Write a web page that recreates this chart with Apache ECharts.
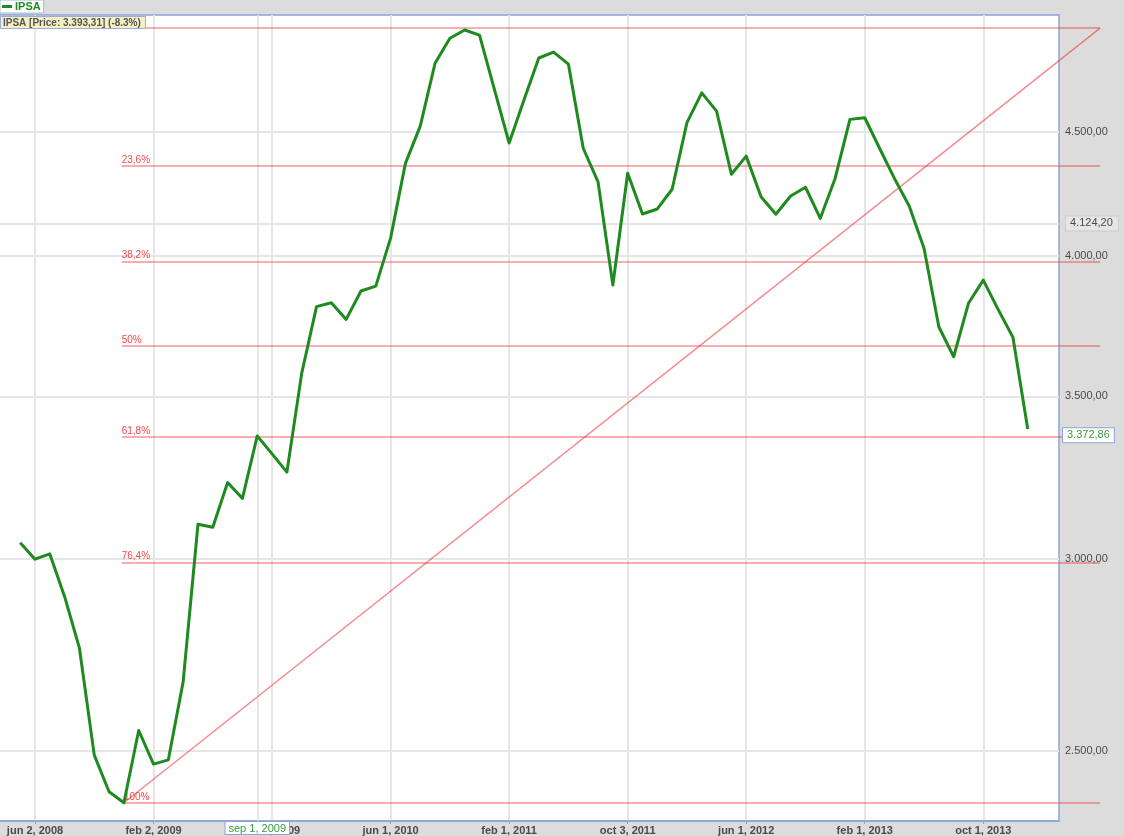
<!DOCTYPE html>
<html><head><meta charset="utf-8">
<script src="https://cdn.jsdelivr.net/npm/echarts@6/dist/echarts.min.js"></script>
<style>html,body{margin:0;padding:0;background:#dcdcdc}#c{width:1124px;height:836px}</style>
</head><body><div id="c"></div>
<script>
// ---- data ----
const months = ['2008-05','2008-06','2008-07','2008-08','2008-09','2008-10','2008-11','2008-12',
 '2009-01','2009-02','2009-03','2009-04','2009-05','2009-06','2009-07','2009-08','2009-09','2009-10','2009-11','2009-12',
 '2010-01','2010-02','2010-03','2010-04','2010-05','2010-06','2010-07','2010-08','2010-09','2010-10','2010-11','2010-12',
 '2011-01','2011-02','2011-03','2011-04','2011-05','2011-06','2011-07','2011-08','2011-09','2011-10','2011-11','2011-12',
 '2012-01','2012-02','2012-03','2012-04','2012-05','2012-06','2012-07','2012-08','2012-09','2012-10','2012-11','2012-12',
 '2013-01','2013-02','2013-03','2013-04','2013-05','2013-06','2013-07','2013-08','2013-09','2013-10','2013-11','2013-12',
 '2014-01'];
const ipsa = [3046, 2999, 3014, 2894, 2756, 2490, 2405, 2380, 2549, 2469,
 2479, 2670, 3100, 3091, 3225, 3177, 3371, 3314, 3257, 3577,
 3811, 3825, 3765, 3868, 3886, 4067, 4366, 4523, 4801, 4916,
 4955, 4931, 4685, 4451, 4636, 4825, 4852, 4797, 4429, 4290,
 3890, 4325, 4161, 4181, 4260, 4538, 4668, 4588, 4321, 4396,
 4230, 4160, 4233, 4268, 4144, 4304, 4552, 4559, 4429, 4304,
 4193, 4028, 3739, 3634, 3823, 3908, 3801, 3702, 3393.31];
const tickIdx = [1, 9, 17, 25, 33, 41, 49, 57, 65];
const tickLabels = ['jun 2, 2008','feb 2, 2009','oct 1, 2009','jun 1, 2010','feb 1, 2011','oct 3, 2011','jun 1, 2012','feb 1, 2013','oct 1, 2013'];
const yTicks = [2500, 3000, 3500, 4000, 4500];
const fibRatios = [0, 0.236, 0.382, 0.5, 0.618, 0.764, 1];
const fibLabels = ['0%', '23,6%', '38,2%', '50%', '61,8%', '76,4%', '100%'];
const fibHigh = 4964, fibLow = 2380;
const fibStartIdx = 6.85, fibLowIdx = 7, fibEndIdx = 72.88;
const cursorIdx = 16, cursorLabel = 'sep 1, 2009';
const cursorPrice = 4124.20;
const lastPrice = 3372.86;
const titleText = 'IPSA [Price: 3.393,31] (-8.3%)';

// ---- helpers ----
function fmt(n) {
  const s = n.toFixed(2).split('.');
  return s[0].replace(/\B(?=(\d{3})+(?!\d))/g, '.') + ',' + s[1];
}
const BLUE = '#8aa4d6', GREEN = '#1f8a1f', FIB = 'rgba(238,60,60,0.55)';
const yMin = 2339.2, yMax = 5025.9;

const gridLineData = yTicks.map(v => ({
  yAxis: v,
  lineStyle: {color: '#e6e6e6', width: 2, type: 'solid'},
  label: {show: true, position: 'end', distance: 6, formatter: fmt(v), color: '#4a4a4a', fontSize: 11}
}));
gridLineData.push({
  yAxis: cursorPrice,
  lineStyle: {color: '#dedede', width: 1.5, type: 'solid'},
  label: {show: true, position: 'end', distance: 7, formatter: fmt(cursorPrice), color: '#4a4a4a', fontSize: 11,
    backgroundColor: '#e6e6e6', borderColor: '#cccccc', borderWidth: 1, padding: [2, 5, 1, 4]}
});
gridLineData.push({
  xAxis: cursorIdx,
  lineStyle: {color: '#dedede', width: 1.5, type: 'solid'},
  label: {show: true, position: 'start', distance: 1, formatter: cursorLabel, color: '#3a9a3a', fontSize: 11,
    backgroundColor: '#ffffff', borderColor: BLUE, borderWidth: 1, padding: [1, 3, 0, 3]}
});
const lastPriceData = [{
  yAxis: lastPrice,
  label: {show: true, position: 'end', distance: 4, formatter: fmt(lastPrice), color: '#3a9a3a', fontSize: 11,
    backgroundColor: '#ffffff', borderColor: BLUE, borderWidth: 1, padding: [2, 4, 1, 4]}
}];

const fibData = fibRatios.map((r, k) => {
  const lvl = fibHigh - r * (fibHigh - fibLow);
  return [
    {coord: [k === fibRatios.length - 1 ? fibLowIdx : fibStartIdx, lvl],
     label: {show: true, position: 'insideStartTop', distance: [0, 1], formatter: fibLabels[k], color: 'rgba(235,40,40,0.85)', fontSize: 10}},
    {coord: [fibEndIdx, lvl]}
  ];
});
fibData.push([
  {coord: [fibLowIdx, fibLow], lineStyle: {width: 1.5, color: 'rgba(238,60,60,0.6)'}, label: {show: false}},
  {coord: [fibEndIdx, fibHigh]}
]);

const chart = echarts.init(document.getElementById('c'), null, {renderer: 'canvas'});
chart.setOption({
  animation: false,
  backgroundColor: '#dcdcdc',
  textStyle: {fontFamily: '"Liberation Sans", Arial, sans-serif'},
  title: {
    text: titleText, left: 0, top: 16, padding: [2, 5, 1, 3],
    backgroundColor: '#f6efc4', borderColor: '#9aaed8', borderWidth: 1,
    textStyle: {fontSize: 10, color: '#555', fontWeight: 'bold'}
  },
  legend: {
    data: ['IPSA'], left: 0, top: 0, padding: [1, 3, 1, 2],
    backgroundColor: '#ffffff', borderColor: '#a8b8d8', borderWidth: 1,
    icon: 'rect', itemWidth: 10, itemHeight: 3, itemGap: 2,
    textStyle: {color: GREEN, fontWeight: 'bold', fontSize: 11, padding: [0, 0, 0, -2]}
  },
  grid: [
    {left: -1, right: 65, top: 15, bottom: 15, show: true, backgroundColor: '#ffffff',
     borderColor: BLUE, borderWidth: 1.5, outerBoundsMode: 'none'},
    {left: -1, right: 20, top: 15, bottom: 15, show: false, outerBoundsMode: 'none'}
  ],
  xAxis: [
    {type: 'value', gridIndex: 0, min: -1.4295, max: 70.110,
     axisLine: {show: true, lineStyle: {color: BLUE, width: 1.5}},
     axisTick: {show: true, customValues: tickIdx, length: 3, lineStyle: {color: BLUE}},
     axisLabel: {customValues: tickIdx, margin: 4, color: '#4a4a4a', fontSize: 11, fontWeight: 'bold',
       formatter: v => tickLabels[tickIdx.indexOf(Math.round(v))] || ''},
     splitLine: {show: true, lineStyle: {color: '#e6e6e6', width: 2}}},
    {type: 'value', gridIndex: 1, min: -1.4295, max: 73.147, show: false}
  ],
  yAxis: [
    {type: 'log', gridIndex: 0, position: 'right', min: yMin, max: yMax,
     axisLine: {show: false}, axisTick: {show: false}, axisLabel: {show: false}, splitLine: {show: false}},
    {type: 'log', gridIndex: 1, position: 'right', min: yMin, max: yMax, show: false,
     axisLine: {show: false}, axisTick: {show: false}, axisLabel: {show: false}, splitLine: {show: false}}
  ],
  series: [
    {name: 'grid', type: 'line', xAxisIndex: 0, yAxisIndex: 0, z: 1, data: [], silent: true,
     markLine: {silent: true, symbol: ['none', 'none'], data: gridLineData}},
    {name: 'last', type: 'line', xAxisIndex: 0, yAxisIndex: 0, z: 6, data: [], silent: true,
     markLine: {silent: true, symbol: ['none', 'none'], lineStyle: {color: 'rgba(0,0,0,0)', width: 1}, data: lastPriceData}},
    {name: 'fib', type: 'line', xAxisIndex: 1, yAxisIndex: 1, z: 2, data: [], silent: true,
     markLine: {silent: true, symbol: ['none', 'none'], lineStyle: {color: FIB, width: 1.5, type: 'solid'}, data: fibData}},
    {name: 'IPSA', type: 'line', xAxisIndex: 0, yAxisIndex: 0, z: 5,
     data: ipsa.map((v, i) => [i, v]),
     showSymbol: false, symbol: 'none',
     itemStyle: {color: GREEN},
     lineStyle: {color: GREEN, width: 3, join: 'round'}}
  ]
});
</script>
</body></html>
